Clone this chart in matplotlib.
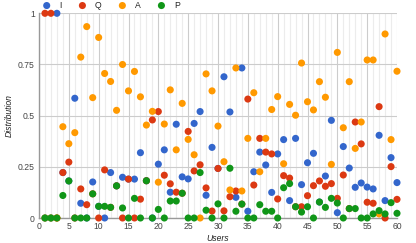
import matplotlib
matplotlib.use("Agg")
import matplotlib.pyplot as plt
from matplotlib.ticker import MultipleLocator
import numpy as np

users = list(range(1, 61))
series_names = ["I", "Q", "A", "P"]
colors = ["#3366cc", "#dc3912", "#ff9900", "#109618"]

I_vals = [0, 0, 1, .222, .181, .585, .072, 0, .176, .057,
          0, .222, .157, .199, .19, .19, .319, .182, 0, .263,
          .333, .126, .458, .201, .191, .462, .52, .111, .345, .242,
          .69, .518, .101, .733, .033, .226, .322, .259, .125, .313,
          .383, .085, .389, .163, .27, .316, .078, .205, .477, .026,
          .349, .244, .15, .171, .151, .142, .404, .085, .295, .173]
Q_vals = [1, 1, 0, .222, .273, 0, .142, .065, .118, 0,
          .235, .052, .157, 0, .19, 0, .092, .182, .479, .52,
          .209, .167, .126, .121, .423, .23, .26, .147, .034, .242,
          .035, .104, .132, .068, .581, .161, .389, .322, .313, .093,
          .207, .195, .055, .055, .109, .158, .181, .155, .168, .096,
          .21, .046, .469, .362, .077, .072, .544, 0, .251, .091]
A_vals = [0, 0, 0, .446, .363, .417, .786, .935, .588, .882,
          .706, .667, .526, .75, .621, .716, .592, .454, .521, .175,
          .459, .626, .333, .56, .384, .309, 0, .704, .621, .449,
          .275, .137, .733, .132, .389, .612, .226, .389, .53, .593,
          .265, .555, .502, .757, .568, .528, .666, .59, .262, .809,
          .441, .666, .34, .469, .772, .772, .02, .899, .383, .717]
P_vals = [0, 0, 0, .11, .181, 0, 0, 0, .118, .057,
          .057, .052, .157, .049, 0, .096, 0, .182, 0, .042,
          0, .083, .083, .121, 0, 0, .222, .038, 0, .069,
          0, .243, .033, .068, 0, 0, .065, .033, .033, 0,
          .148, .168, .055, .029, .055, 0, .078, .052, .096, .073,
          0, .046, .046, 0, 0, .02, .036, .02, .075, .023]

x_ticks = [0, 5, 10, 15, 20, 25, 30, 35, 40, 45, 50, 55, 60]
y_ticks = [0, 0.25, 0.5, 0.75, 1]
y_ticklabels = ["0", "0.25", "0.5", "0.75", "1"]

plt.rcParams['font.family'] = ['Liberation Sans', 'DejaVu Sans']

W, H = 416, 243
fig = plt.figure(figsize=(W / 100, H / 100), dpi=100)
left, right, top, bottom = 39, 397, 13.3, 218
ax = fig.add_axes([left / W, 1 - bottom / H, (right - left) / W, (bottom - top) / H])

ax.set_xlim(0, 60)
ax.set_ylim(0, 1)

# grid
ax.xaxis.set_major_locator(MultipleLocator(5))
ax.xaxis.set_minor_locator(MultipleLocator(1))
ax.set_xticks(x_ticks)
ax.set_yticks(y_ticks)
ax.set_yticklabels(y_ticklabels)
ax.grid(which='minor', axis='x', color='#ececec', linewidth=0.8)
ax.grid(which='major', axis='x', color='#cccccc', linewidth=0.8)
ax.grid(which='major', axis='y', color='#cccccc', linewidth=0.8)
ax.set_axisbelow(True)
for s in ['top', 'right']:
    ax.spines[s].set_visible(False)
ax.spines['left'].set_color('#999999')
ax.spines['bottom'].set_color('#999999')
ax.spines['left'].set_linewidth(1.0)
ax.spines['bottom'].set_linewidth(1.0)
ax.tick_params(which='both', length=0, labelsize=6.2, colors='#444444', pad=3)

all_vals = [I_vals, Q_vals, A_vals, P_vals]
for k, (name, vals, c) in enumerate(zip(series_names, all_vals, colors)):
    ax.scatter(users, vals, s=26, color=c, edgecolors='none', label=name,
               clip_on=False, zorder=3 + k)

ax.set_xlabel("Users", fontsize=6.2, style='italic', color='#222222', labelpad=2)
ax.set_ylabel("Distribution", fontsize=6.2, style='italic', color='#222222', labelpad=3)

leg = fig.legend(loc='center left', bbox_to_anchor=(42.4 / W, 1 - 5.3 / H), ncol=4,
                 frameon=False, fontsize=6.2, handlelength=1.0, handletextpad=0.97,
                 columnspacing=1.9, borderpad=0, borderaxespad=0, markerscale=1.0,
                 scatterpoints=1)
for t in leg.get_texts():
    t.set_color('#222222')

fig.savefig("out.png", dpi=100)
